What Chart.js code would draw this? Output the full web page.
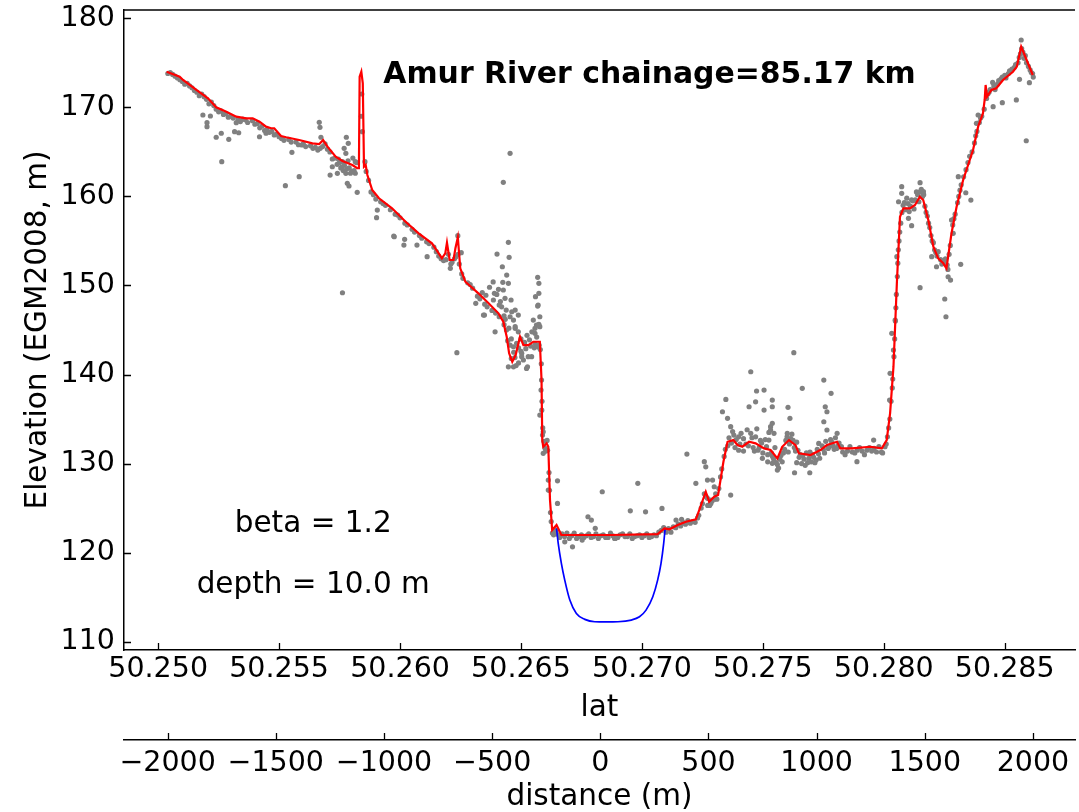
<!DOCTYPE html>
<html>
<head>
<meta charset="utf-8">
<script src="https://cdn.jsdelivr.net/npm/chart.js@4"></script>
<style>
  html, body { margin: 0; padding: 0; background: #fff; overflow: hidden; }
</style>
</head>
<body>
<canvas id="myChart" width="1079" height="812"></canvas>
<script>
// tick values
const latTicks = [50.250, 50.255, 50.260, 50.265, 50.270, 50.275, 50.280, 50.285];
const distTicks = [-2000, -1500, -1000, -500, 0, 500, 1000, 1500, 2000];
const elevTicks = [110, 120, 130, 140, 150, 160, 170, 180];

// smoothed bank profile (red), [lat, elevation]
const lineProfile = [
  [50.25035,174.00],[50.25089,173.44],[50.25103,173.07],[50.25158,171.95],[50.25206,171.02],
  [50.25240,170.01],[50.25282,169.51],[50.25323,168.95],[50.25364,168.77],[50.25391,168.77],
  [50.25419,168.39],[50.25446,167.83],[50.25467,167.65],[50.25480,167.65],[50.25508,166.78],
  [50.25529,166.64],[50.25583,166.33],[50.25638,165.96],[50.25666,165.88],[50.25682,166.33],
  [50.25700,165.58],[50.25734,164.46],[50.25762,163.98],[50.25803,163.53],[50.25823,163.16],
  [50.25830,163.16],[50.25833,173.44],[50.25840,174.00],[50.25846,172.70],[50.25851,163.34],
  [50.25858,163.53],[50.25865,162.40],[50.25885,160.72],[50.25913,159.79],[50.25967,158.66],
  [50.26023,157.16],[50.26077,155.86],[50.26132,154.73],[50.26160,153.61],[50.26173,153.05],
  [50.26187,153.61],[50.26194,154.80],[50.26205,152.86],[50.26221,152.86],[50.26229,154.17],
  [50.26239,155.40],[50.26249,151.93],[50.26270,150.42],[50.26324,149.12],[50.26366,148.00],
  [50.26407,146.87],[50.26427,145.93],[50.26441,144.25],[50.26451,142.38],[50.26464,141.44],
  [50.26478,142.19],[50.26496,144.25],[50.26510,143.31],[50.26530,143.31],[50.26551,143.68],
  [50.26578,143.68],[50.26585,139.38],[50.26588,132.64],[50.26592,131.89],[50.26606,132.27],
  [50.26613,131.89],[50.26620,125.91],[50.26629,122.54],[50.26647,123.10],[50.26667,121.98],
  [50.26736,121.98],[50.26873,121.98],[50.27065,122.09],[50.27093,122.73],[50.27114,122.62],
  [50.27148,123.10],[50.27182,123.47],[50.27223,123.74],[50.27237,124.78],[50.27264,126.84],
  [50.27278,125.72],[50.27299,126.28],[50.27315,126.47],[50.27337,130.21],[50.27354,132.45],
  [50.27378,132.64],[50.27395,132.08],[50.27415,131.89],[50.27443,132.45],[50.27470,132.27],
  [50.27505,131.71],[50.27532,131.52],[50.27560,130.59],[50.27580,131.89],[50.27608,132.64],
  [50.27635,132.08],[50.27649,131.15],[50.27697,130.96],[50.27738,131.52],[50.27765,132.08],
  [50.27807,132.45],[50.27820,131.71],[50.27868,131.71],[50.27944,131.89],[50.27992,131.71],
  [50.28012,132.64],[50.28026,135.64],[50.28040,140.88],[50.28054,150.24],[50.28067,157.72],
  [50.28081,158.66],[50.28108,158.66],[50.28129,159.03],[50.28149,159.97],[50.28163,159.60],
  [50.28184,157.35],[50.28205,154.35],[50.28225,153.05],[50.28246,152.49],[50.28259,151.93],
  [50.28280,155.86],[50.28301,158.84],[50.28328,161.84],[50.28369,165.21],[50.28390,167.83],
  [50.28410,169.33],[50.28417,170.83],[50.28421,172.51],[50.28427,171.20],[50.28445,171.95],
  [50.28465,172.14],[50.28493,173.07],[50.28534,174.00],[50.28550,174.57],[50.28568,176.81],
  [50.28596,174.95],[50.28616,173.63]
];

// estimated channel bed (blue), [lat, elevation]
const channelProfile = [
  [50.26647,122.73],[50.26654,121.04],[50.26667,118.80],[50.26681,116.92],[50.26702,114.68],
  [50.26729,113.18],[50.26764,112.51],[50.26805,112.24],[50.26851,112.22],[50.26901,112.24],
  [50.26956,112.43],[50.26990,112.80],[50.27017,113.55],[50.27045,115.05],[50.27065,116.92],
  [50.27079,118.80],[50.27090,121.04],[50.27096,122.73]
];

// raw elevation samples (grey), [lat, elevation]
const surveyPoints = [
  [50.25185,169.14],[50.25202,168.28],[50.25202,167.83],[50.25216,169.03],[50.25240,166.64],
  [50.25261,167.09],[50.25263,163.90],[50.25292,166.41],[50.25316,167.27],[50.25333,167.15],
  [50.25323,168.28],[50.25350,168.69],[50.25419,166.70],[50.25446,167.09],[50.25526,161.20],
  [50.25553,164.95],[50.25583,162.21],[50.25594,165.77],[50.25666,168.32],[50.25669,167.76],
  [50.25673,166.64],[50.25711,162.40],[50.25720,163.33],[50.25741,162.59],[50.25778,166.64],
  [50.25786,165.96],[50.25769,165.40],[50.25776,164.84],[50.25762,163.90],[50.25776,162.59],
  [50.25782,161.47],[50.25789,161.17],[50.25823,160.46],[50.25844,167.27],[50.25855,163.90],
  [50.25906,158.47],[50.25903,157.61],[50.25976,155.47],[50.26016,154.54],[50.26019,155.18],
  [50.26070,154.54],[50.26112,153.23],[50.25762,149.18],[50.26455,164.84],[50.26427,161.58],
  [50.26448,154.84],[50.26401,153.53],[50.26451,153.16],[50.26423,152.10],[50.26441,151.17],
  [50.26448,150.24],[50.26569,150.91],[50.26574,150.24],[50.26574,149.12],[50.26235,142.45],
  [50.26313,147.99],[50.26349,146.68],[50.26393,144.80],[50.26489,146.68],[50.26476,145.19],
  [50.26551,146.12],[50.26558,144.63],[50.26571,145.56],[50.26530,142.00],[50.26503,142.00],
  [50.25974,155.55],[50.26239,155.59],[50.26253,153.68],[50.26208,151.92],[50.26425,150.35],
  [50.26407,149.57],[50.26427,149.49],[50.26390,149.12],[50.26434,148.56],[50.26386,148.37],
  [50.26459,148.37],[50.26439,147.24],[50.26462,147.05],[50.26476,147.24],[50.26455,146.49],
  [50.26469,146.12],[50.26476,145.37],[50.26489,144.80],[50.26578,146.49],[50.26574,145.64],
  [50.26564,145.56],[50.26558,145.19],[50.26560,148.74],[50.26569,147.69],[50.26469,140.87],
  [50.26503,142.38],[50.26510,141.63],[50.26544,142.00],[50.26527,140.87],[50.26469,143.12],
  [50.26482,143.50],[50.26345,146.68],[50.26448,140.87],[50.26523,140.69],[50.26571,147.80],
  [50.26578,145.37],[50.26585,139.38],[50.26583,138.26],[50.26578,135.45],[50.26592,133.57],
  [50.26592,131.15],[50.26613,128.15],[50.26613,127.03],[50.26651,128.07],[50.26651,125.53],
  [50.26633,122.17],[50.26681,121.22],[50.26713,120.66],[50.26753,121.41],[50.26777,124.03],
  [50.26791,123.66],[50.26807,122.73],[50.26836,126.84],[50.26887,121.60],[50.26952,124.70],
  [50.26983,127.78],[50.27015,124.59],[50.27083,124.97],[50.27141,123.66],[50.27164,123.74],
  [50.27186,131.07],[50.27223,127.78],[50.27258,130.21],[50.27264,129.64],[50.27271,128.15],
  [50.27292,128.15],[50.27299,127.40],[50.27271,126.10],[50.27285,125.53],[50.27333,135.82],
  [50.27347,137.21],[50.27354,135.08],[50.27367,134.14],[50.27367,126.47],[50.27450,140.31],
  [50.27443,136.38],[50.27474,138.15],[50.27470,136.94],[50.27505,136.01],[50.27539,137.13],
  [50.27539,136.38],[50.27498,130.59],[50.27532,134.14],[50.27539,134.52],[50.27546,133.40],
  [50.27505,138.26],[50.27532,133.77],[50.27525,132.64],[50.27628,142.45],[50.27663,138.45],
  [50.27604,136.32],[50.27612,135.08],[50.27601,133.40],[50.27752,139.38],[50.27782,137.89],
  [50.27758,136.38],[50.27765,135.82],[50.27752,134.70],[50.27765,133.77],[50.27807,133.40],
  [50.27731,132.27],[50.27560,129.27],[50.27631,128.97],[50.27694,128.97],[50.27539,130.03],
  [50.27889,130.21],[50.27958,132.64],[50.28074,161.09],[50.28074,160.35],[50.28061,159.40],
  [50.28150,161.54],[50.28164,160.53],[50.28102,157.54],[50.28115,156.71],[50.28150,149.75],
  [50.28198,153.23],[50.28218,152.10],[50.28266,150.98],[50.28276,150.61],[50.28252,148.48],
  [50.28257,146.49],[50.28318,152.37],[50.28339,160.41],[50.28360,159.59],[50.28452,170.07],
  [50.28490,170.52],[50.28548,170.83],[50.28561,173.15],[50.28602,172.77],[50.28589,166.25],
  [50.28568,177.56],[50.28308,162.21],[50.28033,144.63],[50.28026,140.13],[50.28047,146.12],
  [50.28054,153.23],[50.28024,137.13],[50.28040,142.75],[50.28280,157.35],[50.28287,155.86],
  [50.28383,168.21],[50.28390,169.14],
  // dense band along the profile
  [50.25040,173.8],[50.25060,173.7],[50.25080,173.3],[50.25100,172.9],[50.25120,172.7],
  [50.25140,172.2],[50.25160,171.7],[50.25180,171.5],[50.25200,170.9],[50.25220,170.6],
  [50.25240,169.8],[50.25260,169.6],[50.25280,169.3],[50.25300,169.0],[50.25330,168.7],
  [50.25360,168.6],[50.25390,168.5],[50.25410,168.2],[50.25430,167.9],[50.25450,167.5],
  [50.25470,167.3],[50.25490,167.0],[50.25510,166.5],[50.25540,166.4],[50.25570,166.1],
  [50.25600,165.9],[50.25630,165.7],[50.25650,165.5],[50.25670,165.4],[50.25690,165.9],
  [50.25710,165.0],[50.25730,164.3],[50.25750,163.8],[50.25770,163.5],[50.25790,163.2],
  [50.25810,162.9],[50.25820,163.8],[50.25840,169.0],[50.25842,171.5],[50.25860,162.8],
  [50.25880,160.5],[50.25900,159.7],[50.25930,159.2],[50.25960,158.5],[50.25990,157.9],
  [50.26020,157.0],[50.26050,156.3],[50.26080,155.6],[50.26110,154.9],[50.26140,154.3],
  [50.26160,153.3],[50.26180,152.8],[50.26200,153.5],[50.26215,152.6],[50.26230,153.2],
  [50.26245,152.4],[50.26260,150.8],[50.26290,150.1],[50.26320,148.8],[50.26350,147.9],
  [50.26380,147.2],[50.26410,146.5],[50.26430,145.6],[50.26445,143.8],[50.26460,141.8],
  [50.26475,141.9],[50.26490,143.0],[50.26500,144.0],[50.26520,142.9],[50.26540,143.2],
  [50.26560,143.4],[50.26575,143.3],[50.26587,137.0],[50.26590,134.0],[50.26600,131.7],
  [50.26610,131.5],[50.26616,129.0],[50.26622,124.5],[50.26630,122.2],[50.26640,122.6],
  [50.26660,121.7],[50.26680,121.8],[50.26700,121.6],[50.26720,122.2],[50.26740,121.8],
  [50.26760,121.7],[50.26780,122.1],[50.26800,121.8],[50.26820,121.6],[50.26840,122.0],
  [50.26860,121.7],[50.26880,121.9],[50.26900,121.7],[50.26920,122.1],[50.26940,121.8],
  [50.26960,121.6],[50.26980,121.9],[50.27000,121.7],[50.27020,122.1],[50.27040,121.8],
  [50.27060,121.9],[50.27080,122.5],[50.27100,122.3],[50.27120,122.3],[50.27140,122.8],
  [50.27160,123.0],[50.27180,123.2],[50.27200,123.3],[50.27220,123.4],[50.27235,124.2],
  [50.27250,125.5],[50.27265,126.3],[50.27280,125.3],[50.27290,125.8],[50.27300,126.0],
  [50.27310,126.0],[50.27325,128.5],[50.27340,130.8],[50.27355,132.0],[50.27370,132.3],
  [50.27385,131.8],[50.27400,131.5],[50.27420,131.4],[50.27440,132.0],[50.27460,131.8],
  [50.27480,131.5],[50.27500,131.2],[50.27520,131.0],[50.27540,130.8],[50.27555,130.1],
  [50.27570,130.5],[50.27590,131.6],[50.27610,132.2],[50.27630,131.8],[50.27650,130.7],
  [50.27670,130.5],[50.27690,130.6],[50.27710,130.7],[50.27730,131.1],[50.27750,131.6],
  [50.27770,131.7],[50.27790,132.0],[50.27810,132.0],[50.27830,131.3],[50.27850,131.4],
  [50.27870,131.3],[50.27890,131.5],[50.27910,131.4],[50.27930,131.5],[50.27950,131.4],
  [50.27970,131.3],[50.27990,131.3],[50.28005,131.9],
  [50.27380,133.2],[50.27400,133.0],[50.27420,132.8],[50.27450,133.4],[50.27470,133.0],
  [50.27490,132.6],[50.27510,132.7],[50.27525,133.5],[50.27600,133.0],[50.27620,133.3],
  [50.27640,132.4],[50.27680,131.2],[50.27700,130.2],[50.27720,130.4],[50.27760,132.5],
  [50.27780,132.7],[50.27800,132.9],[50.27660,130.0],[50.27640,130.1],[50.27580,130.2],
  [50.27560,129.9],
  [50.28020,134.0],[50.28030,137.0],[50.28037,139.5],[50.28045,144.0],[50.28050,147.5],
  [50.28058,152.5],[50.28063,155.0],[50.28070,157.0],[50.28080,159.0],[50.28090,158.5],
  [50.28100,159.2],[50.28110,158.9],[50.28120,159.5],[50.28130,159.6],[50.28140,160.2],
  [50.28150,160.5],[50.28160,160.0],[50.28170,158.9],[50.28180,157.8],[50.28190,156.5],
  [50.28200,155.0],[50.28210,154.0],[50.28220,153.3],[50.28235,152.9],[50.28250,152.7],
  [50.28262,152.3],[50.28270,153.5],[50.28285,156.8],[50.28295,158.0],[50.28310,160.0],
  [50.28320,161.3],[50.28340,163.0],[50.28355,164.5],[50.28375,166.0],[50.28385,167.3],
  [50.28400,168.8],[50.28415,169.8],[50.28430,171.5],[50.28440,172.0],[50.28455,172.4],
  [50.28470,172.6],[50.28485,173.2],[50.28500,173.6],[50.28515,173.8],[50.28530,174.3],
  [50.28545,174.8],[50.28560,175.6],[50.28575,176.2],[50.28580,175.5],[50.28590,175.0],
  [50.28605,174.2],[50.28615,173.8],
  // second pass of the band, denser where the cloud is thick
  [50.25050,173.9],[50.25070,173.5],[50.25090,173.1],[50.25110,172.6],[50.25130,172.4],
  [50.25150,171.9],[50.25170,171.3],[50.25190,171.2],[50.25210,170.4],[50.25230,170.2],
  [50.25250,169.5],[50.25270,169.2],[50.25290,168.9],[50.25310,168.8],[50.25340,168.4],
  [50.25370,168.3],[50.25400,168.1],[50.25420,167.7],[50.25440,167.4],[50.25460,167.2],
  [50.25480,166.9],[50.25500,166.7],[50.25520,166.3],[50.25550,166.1],[50.25580,165.8],
  [50.25610,165.6],[50.25640,165.4],[50.25660,165.2],[50.25680,165.6],[50.25700,165.3],
  [50.25720,164.2],[50.25740,163.6],[50.25760,163.3],[50.25780,163.1],[50.25800,162.8],
  [50.25815,162.6],[50.25745,164.2],[50.25755,163.2],[50.25765,162.9],[50.25785,164.0],
  [50.25795,162.6],[50.25805,164.3],[50.25815,163.9],
  [50.25870,161.8],[50.25890,160.2],[50.25920,159.4],[50.25940,159.0],[50.25980,158.0],
  [50.26000,157.6],[50.26030,156.8],[50.26060,156.0],[50.26090,155.3],[50.26120,154.7],
  [50.26150,153.8],[50.26170,153.0],[50.26190,152.9],[50.26210,152.4],[50.26225,153.0],
  [50.26240,153.5],[50.26255,151.3],[50.26280,150.3],[50.26300,149.7],[50.26330,148.5],
  [50.26360,147.6],[50.26395,146.9],
  [50.26340,149.2],[50.26355,148.9],[50.26370,149.8],[50.26385,150.4],[50.26400,149.0],
  [50.26415,148.2],[50.26420,147.6],[50.26435,146.2],[50.26450,145.2],[50.26460,144.0],
  [50.26470,142.5],[50.26480,141.0],[50.26490,141.3],[50.26500,142.6],[50.26515,143.6],
  [50.26525,144.4],[50.26535,143.9],[50.26545,144.8],[50.26555,143.0],[50.26565,144.2],
  [50.26572,143.1],[50.26580,142.8],[50.26455,143.3],[50.26440,145.0],[50.26430,146.6],
  [50.26410,147.8],
  [50.26584,141.2],[50.26586,136.0],[50.26589,133.2],[50.26595,132.5],[50.26603,131.4],
  [50.26608,132.6],[50.26618,127.0],[50.26625,123.5],[50.26635,122.0],[50.26645,122.4],
  [50.26655,122.0],
  [50.26670,122.1],[50.26690,122.2],[50.26710,121.9],[50.26730,121.6],[50.26750,122.0],
  [50.26770,121.9],[50.26790,121.7],[50.26810,122.1],[50.26830,121.9],[50.26850,121.7],
  [50.26870,122.2],[50.26890,121.6],[50.26910,122.0],[50.26930,121.8],[50.26950,122.1],
  [50.26970,121.8],[50.26990,122.0],[50.27010,121.9],[50.27030,121.7],[50.27050,122.0],
  [50.27070,122.3],[50.27090,122.8],[50.27110,122.7],[50.27130,122.9],[50.27150,123.2],
  [50.27170,123.4],[50.27190,123.6],[50.27210,123.5],[50.27230,123.9],[50.27245,125.0],
  [50.27258,126.6],[50.27272,125.3],[50.27285,125.9],[50.27305,126.6],[50.27318,127.2],
  [50.27330,129.4],
  [50.27345,131.6],[50.27360,132.9],[50.27375,133.6],[50.27390,132.7],[50.27405,132.2],
  [50.27410,133.4],[50.27430,132.2],[50.27435,133.8],[50.27455,132.9],[50.27465,131.4],
  [50.27475,133.9],[50.27485,131.8],[50.27495,132.3],[50.27515,131.9],[50.27520,130.2],
  [50.27535,131.2],[50.27545,130.5],[50.27550,131.8],[50.27565,129.5],[50.27575,130.9],
  [50.27585,131.2],[50.27595,132.6],[50.27605,131.3],[50.27615,132.8],[50.27625,132.6],
  [50.27635,131.4],[50.27645,131.5],[50.27655,131.0],[50.27665,130.9],[50.27675,129.8],
  [50.27685,130.1],[50.27695,131.3],[50.27705,131.0],[50.27715,130.1],[50.27725,131.6],
  [50.27735,130.6],[50.27745,132.0],[50.27755,131.2],[50.27775,131.9],[50.27785,132.4],
  [50.27795,131.6],[50.27805,131.7],[50.27815,132.3],[50.27825,131.9],[50.27840,131.0],
  [50.27860,131.9],[50.27880,131.2],[50.27900,131.8],[50.27920,131.0],[50.27940,131.8],
  [50.27960,131.7],[50.27980,131.9],[50.27995,131.2],[50.28010,132.2],
  [50.28015,133.0],[50.28025,135.0],[50.28035,138.5],[50.28042,142.0],[50.28048,146.0],
  [50.28052,149.0],[50.28056,151.0],[50.28060,154.0],[50.28066,156.0],[50.28075,158.2],
  [50.28085,159.3],[50.28095,159.8],[50.28105,158.3],[50.28115,159.6],[50.28125,158.6],
  [50.28135,160.5],[50.28145,159.4],[50.28155,160.8],[50.28165,160.2],[50.28175,158.2],
  [50.28185,157.0],[50.28195,155.6],[50.28205,154.8],[50.28215,153.7],[50.28225,153.8],
  [50.28240,152.4],[50.28255,153.0],[50.28265,151.8],[50.28275,154.5],[50.28290,157.5],
  [50.28305,159.3],[50.28315,160.7],[50.28330,162.2],[50.28348,163.8],[50.28365,165.0],
  [50.28380,166.8],[50.28395,168.3],[50.28405,169.0],[50.28425,171.0],[50.28435,171.7],
  [50.28450,172.8],[50.28460,172.0],[50.28475,173.0],[50.28490,173.4],[50.28505,173.3],
  [50.28520,174.1],[50.28540,174.5],[50.28555,175.0],[50.28565,176.0],[50.28570,176.6],
  [50.28585,175.8],[50.28598,174.6],[50.28610,173.9],[50.28618,173.4]
];

const FONT = 'DejaVu Sans';
const toXY = arr => arr.map(p => ({ x: p[0], y: p[1] }));

// text drawn inside the axes, placed in data coordinates
const notes = {
  id: 'notes',
  afterDatasetsDraw(chart) {
    const { ctx, scales: { x, y } } = chart;
    ctx.save();
    ctx.fillStyle = '#000';
    ctx.textBaseline = 'alphabetic';
    ctx.font = 'bold 29.9px "' + FONT + '"';
    ctx.textAlign = 'left';
    ctx.fillText('Amur River chainage=85.17 km', x.getPixelForValue(50.25931), y.getPixelForValue(172.77));
    ctx.font = '29.5px "' + FONT + '"';
    ctx.textAlign = 'center';
    ctx.fillText('beta = 1.2', x.getPixelForValue(50.25641), y.getPixelForValue(122.35));
    ctx.fillText('depth = 10.0 m', x.getPixelForValue(50.25641), y.getPixelForValue(115.43));
    ctx.restore();
  }
};

// matplotlib-style inward ticks and the top spine
const frame = {
  id: 'frame',
  afterDraw(chart) {
    const { ctx, chartArea, scales } = chart;
    ctx.save();
    ctx.strokeStyle = '#000';
    ctx.lineWidth = 1.3;
    ctx.beginPath();
    ['x', 'x2'].forEach(id => {
      const s = scales[id];
      s.ticks.forEach(t => {
        const px = Math.round(s.getPixelForValue(t.value)) + 0.5;
        ctx.moveTo(px, s.top);
        ctx.lineTo(px, s.top - 7);
      });
    });
    scales.y.ticks.forEach(t => {
      const py = Math.round(scales.y.getPixelForValue(t.value)) + 0.5;
      ctx.moveTo(scales.y.right, py);
      ctx.lineTo(scales.y.right + 7, py);
    });
    ctx.stroke();
    ctx.lineWidth = 1.5;
    ctx.beginPath();
    ctx.moveTo(chartArea.left, chartArea.top);
    ctx.lineTo(chartArea.right, chartArea.top);
    ctx.stroke();
    ctx.restore();
  }
};

const noPad = s => { s.paddingLeft = 0; s.paddingRight = 0; s.paddingTop = 0; s.paddingBottom = 0; };
const minus = v => (v < 0 ? '\u2212' + Math.abs(v) : String(v));

const ctx = document.getElementById('myChart').getContext('2d');

new Chart(ctx, {
  type: 'scatter',
  data: {
    datasets: [
      {
        label: 'profile',
        data: toXY(lineProfile),
        showLine: true,
        borderColor: '#ff0000',
        borderWidth: 2.2,
        pointRadius: 0,
        fill: false,
        order: 0
      },
      {
        label: 'channel',
        data: toXY(channelProfile),
        showLine: true,
        borderColor: '#0000ff',
        borderWidth: 1.7,
        pointRadius: 0,
        cubicInterpolationMode: 'monotone',
        fill: false,
        order: 1
      },
      {
        label: 'points',
        data: toXY(surveyPoints),
        backgroundColor: '#808080',
        borderWidth: 0,
        pointRadius: 2.6,
        order: 2
      }
    ]
  },
  options: {
    responsive: false,
    devicePixelRatio: 1,
    animation: false,
    events: [],
    layout: { padding: { top: 10, right: 0, bottom: 0, left: 0 } },
    plugins: { legend: { display: false }, tooltip: { enabled: false } },
    scales: {
      x: {
        type: 'linear',
        position: 'bottom',
        weight: 1,
        min: 50.248588,
        max: 50.287905,
        grid: { display: false, drawTicks: false },
        border: { display: true, color: '#000', width: 1.5 },
        ticks: {
          color: '#000', font: { family: FONT, size: 28.5 }, padding: 2,
          maxRotation: 0, autoSkip: false,
          callback: v => v.toFixed(3)
        },
        afterBuildTicks: s => { s.ticks = latTicks.map(v => ({ value: v })); },
        title: { display: true, text: 'lat', color: '#000', font: { family: FONT, size: 29.5 }, padding: { top: 0, bottom: 14 } },
        afterFit: s => { s.height = 90; noPad(s); }
      },
      x2: {
        type: 'linear',
        axis: 'x',
        position: 'bottom',
        weight: 2,
        min: -2201.7,
        max: 2194.3,
        grid: { display: false, drawTicks: false },
        border: { display: true, color: '#000', width: 1.5 },
        ticks: {
          color: '#000', font: { family: FONT, size: 28.5 }, padding: 6.5,
          maxRotation: 0, autoSkip: false,
          callback: v => minus(v)
        },
        afterBuildTicks: s => { s.ticks = distTicks.map(v => ({ value: v })); },
        title: { display: true, text: 'distance (m)', color: '#000', font: { family: FONT, size: 29.5 }, padding: { top: 0, bottom: -3.5 } },
        afterFit: s => { s.height = 72; noPad(s); }
      },
      y: {
        type: 'linear',
        position: 'left',
        min: 109.07,
        max: 180.93,
        grid: { display: false, drawTicks: false },
        border: { display: true, color: '#000', width: 1.5 },
        ticks: {
          color: '#000', font: { family: FONT, size: 28.5 }, padding: 9,
          autoSkip: false,
          callback: v => String(v)
        },
        afterBuildTicks: s => { s.ticks = elevTicks.map(v => ({ value: v })); },
        title: { display: true, text: 'Elevation (EGM2008, m)', color: '#000', font: { family: FONT, size: 29.5 }, padding: { top: 21, bottom: 0 } },
        afterFit: s => { s.width = 124; noPad(s); }
      }
    }
  },
  plugins: [notes, frame]
});
</script>
</body>
</html>
